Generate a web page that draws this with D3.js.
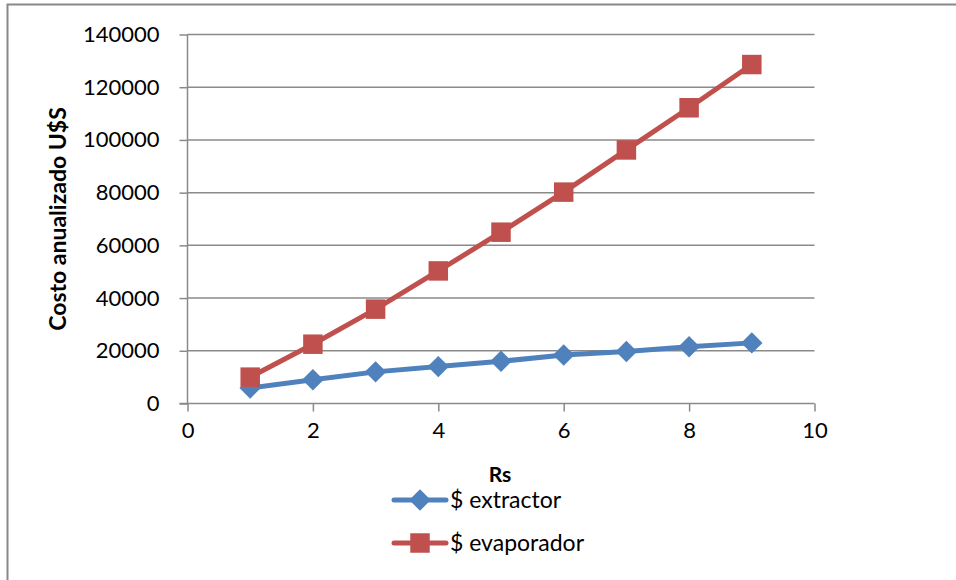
<!DOCTYPE html>
<html>
<head>
<meta charset="utf-8">
<script src="https://cdn.jsdelivr.net/npm/d3@7"></script>
<style>
  body { margin: 0; background: #fff; }
  svg { display: block; font-family: Lato, "Open Sans", sans-serif; }
</style>
</head>
<body>
<svg id="chart" width="956" height="580"></svg>
<script>
// data
const rs = [1, 2, 3, 4, 5, 6, 7, 8, 9];
const extractor = [5900, 9000, 12000, 14000, 16000, 18400, 19700, 21500, 23000];
const evaporador = [10000, 22500, 35800, 50300, 65000, 80200, 96200, 112200, 128600];
const xTicks = [0, 2, 4, 6, 8, 10];
const yTicks = [0, 20000, 40000, 60000, 80000, 100000, 120000, 140000];
const seriesNames = ["$ extractor", "$ evaporador"];

const svg = d3.select("#chart");
const plot = { left: 187.5, right: 814.5, top: 34.5, bottom: 403.5 };

const x = d3.scaleLinear().domain([0, 10]).range([plot.left, plot.right]);
const y = d3.scaleLinear().domain([0, 140000]).range([plot.bottom, plot.top]);

// outer chart border (only top and left visible)
svg.append("path")
  .attr("d", "M7.5,580 L7.5,4.5 L956,4.5")
  .attr("fill", "none")
  .attr("stroke", "#888")
  .attr("stroke-width", 2);

// gridlines
svg.append("g")
  .selectAll("line")
  .data(yTicks.slice(1))
  .join("line")
  .attr("x1", plot.left)
  .attr("x2", plot.right)
  .attr("y1", d => y(d))
  .attr("y2", d => y(d))
  .attr("stroke", "#8a8a8a")
  .attr("stroke-width", 1.5);

// y axis
const yAxis = svg.append("g")
  .attr("transform", `translate(${plot.left},0)`)
  .call(d3.axisLeft(y).tickValues(yTicks).tickSize(8).tickPadding(20).tickFormat(d3.format("d")));

// x axis
const xAxis = svg.append("g")
  .attr("transform", `translate(0,${plot.bottom})`)
  .call(d3.axisBottom(x).tickValues(xTicks).tickSize(8).tickPadding(11).tickFormat(d3.format("d")));

[yAxis, xAxis].forEach(ax => {
  ax.select(".domain").attr("stroke", "#8a8a8a").attr("stroke-width", 1.5);
  ax.selectAll(".tick line").attr("stroke", "#8a8a8a").attr("stroke-width", 1.5);
  ax.selectAll(".tick text")
    .attr("fill", "#000")
    .style("font-size", "22px")
    .style("font-family", "Lato, 'Open Sans', sans-serif");
});
yAxis.select(".domain").attr("d", `M0,${plot.top}V${plot.bottom}`);
xAxis.select(".domain").attr("d", `M${plot.left - 8},0H${plot.right}`);

// axis titles
svg.append("text")
  .attr("transform", `translate(66,219) rotate(-90)`)
  .attr("text-anchor", "middle")
  .style("font-size", "23px")
  .style("font-weight", "bold")
  .text("Costo anualizado U$S");

svg.append("text")
  .attr("x", 500)
  .attr("y", 482)
  .attr("text-anchor", "middle")
  .style("font-size", "21px")
  .style("font-weight", "bold")
  .text("Rs");

const diamond = d3.symbol().type(d3.symbolSquare).size(230);
const square = d3.symbol().type(d3.symbolSquare).size(380);

const line = d3.line().x(d => x(d[0])).y(d => y(d[1]));
const series = [
  { name: seriesNames[0], values: extractor, color: "#4F81BD", sym: diamond, rot: 45 },
  { name: seriesNames[1], values: evaporador, color: "#C0504D", sym: square, rot: 0 }
];

series.forEach(s => {
  const pts = rs.map((r, i) => [r, s.values[i]]);
  svg.append("path")
    .datum(pts)
    .attr("d", line)
    .attr("fill", "none")
    .attr("stroke", s.color)
    .attr("stroke-width", 5)
    .attr("stroke-linejoin", "round");
});

series.forEach(s => {
  const pts = rs.map((r, i) => [r, s.values[i]]);
  svg.append("g")
    .selectAll("path")
    .data(pts)
    .join("path")
    .attr("transform", d => `translate(${x(d[0])},${y(d[1])}) rotate(${s.rot})`)
    .attr("d", s.sym)
    .attr("fill", s.color);
});

// legend
const legend = svg.append("g");
series.forEach((s, i) => {
  const ly = 500 + i * 43;
  legend.append("line")
    .attr("x1", 394).attr("x2", 446)
    .attr("y1", ly).attr("y2", ly)
    .attr("stroke", s.color)
    .attr("stroke-width", 5)
    .attr("stroke-linecap", "round");
  legend.append("path")
    .attr("transform", `translate(420,${ly}) rotate(${s.rot})`)
    .attr("d", s.sym)
    .attr("fill", s.color);
  legend.append("text")
    .attr("x", 450)
    .attr("y", ly + 8)
    .style("font-size", "23px")
    .text(s.name);
});
</script>
</body>
</html>
